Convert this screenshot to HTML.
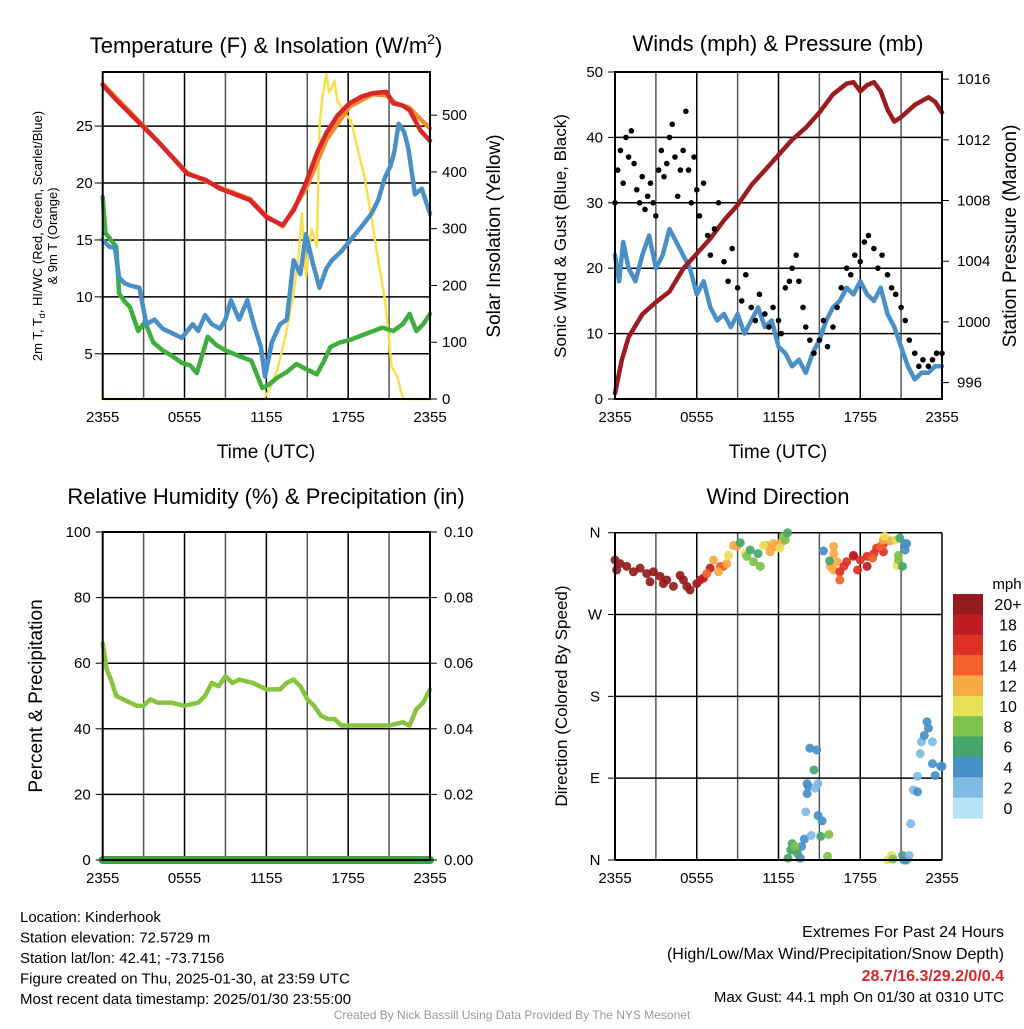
<!DOCTYPE html>
<html><head><meta charset="utf-8"><style>
body{margin:0;background:#fff;}
svg text{font-family:"Liberation Sans",sans-serif;}
</style></head><body>
<svg id="c" width="1024" height="1024" xmlns="http://www.w3.org/2000/svg"></svg>
<script>
// ---------- data ----------
const timeTicks=["2355","0555","1155","1755","2355"];
const tempT=[0,1,2,3,4,5,6.2,7.5,8.6,9.7,10.8,12,13.2,14,14.9,15.7,16.4,17.2,18.1,19,19.8,20.8,21.3,22,22.5,23.3,24];
const tempV=[28.6,27.3,26.1,24.9,23.7,22.4,20.8,20.3,19.5,19.0,18.5,17.0,16.3,17.6,20.0,22.6,24.4,25.9,27.0,27.6,27.9,28.0,27.0,26.8,26.4,24.6,23.7];
const t9T=[0,3,6.2,8.6,10.8,12,13.2,14.9,16.4,18.1,19.8,20.8,21.5,22.5,23.3,24];
const t9V=[28.7,25.0,20.9,19.6,18.6,17.1,16.2,19.5,23.8,26.7,27.8,27.7,27.0,26.6,25.6,24.8];
const dewT=[0,0.2,0.6,1.0,1.2,1.6,2.0,2.6,3.1,3.7,4.4,5.1,5.8,6.4,6.9,7.7,8.3,9.0,10.0,10.9,11.7,12.2,12.8,13.5,14.2,15.0,15.7,16.2,16.7,17.4,18.1,19.2,20.5,21.3,22.0,22.5,23.0,23.5,24];
const dewV=[18.8,15.6,15.0,14.4,10.3,9.6,9.1,7.0,7.8,6.0,5.3,4.8,4.2,4.0,3.3,6.5,5.8,5.3,4.8,4.4,2.0,2.3,2.9,3.4,4.1,3.6,3.2,4.3,5.6,6.0,6.2,6.7,7.3,7.0,7.6,8.5,7.0,7.6,8.5];
const hiT=[0,0.5,0.9,1.2,1.6,2.0,2.7,3.2,3.8,4.4,5.1,5.8,6.6,7.0,7.5,8.0,8.6,9.0,9.4,10.0,10.6,11.1,11.6,11.9,12.4,13.0,13.5,14.0,14.5,14.9,15.4,15.9,16.4,16.8,17.5,18.3,19.0,19.7,20.2,20.7,21.1,21.4,21.7,22.1,22.4,22.9,23.4,24];
const hiV=[15,14.4,14.3,11.7,11.2,11.0,10.8,7.6,8.0,7.2,6.8,6.4,7.6,7.0,8.4,7.6,7.2,8.0,9.7,8.0,9.7,7.5,5.6,3.0,6.0,7.6,8.0,13.2,12.0,15.5,13.0,10.8,12.5,13.2,14.0,15.2,16.2,17.3,18.5,20.5,21.5,22.8,25.2,24.5,23.1,19.0,19.5,17.3];
const solT=[0,11.8,12.3,12.8,13.4,14.0,14.4,14.6,14.9,15.3,15.7,15.9,16.1,16.4,16.6,16.8,17.0,17.2,17.7,18.2,18.7,19.2,19.7,20.2,20.7,21.2,21.6,21.9,22.1,24];
const solV=[0,0,20,51,110,186,260,327,215,300,268,479,530,574,540,549,560,526,505,491,440,391,320,245,174,56,40,10,0,0];
const windT=[0,0.3,0.6,1,1.5,2,2.5,3,3.5,4,4.5,5,5.5,6,6.5,7,7.5,8,8.5,9,9.5,10,10.5,11,11.5,12,12.5,13,13.5,14,14.5,15,15.5,16,16.5,17,17.5,18,18.5,19,19.5,20,20.5,21,21.5,22,22.5,23,23.5,24];
const windV=[22,18,24,20,18,22,25,20,22,26,24,22,20,16,18,14,12,13,11,13,10,12,14,11,12,8,7,5,6,4,7,9,12,14,15,17,16,18,16,15,17,13,11,8,5,3,4,4,5,5];
const gustT=[0,0.2,0.4,0.6,0.8,1.0,1.2,1.4,1.6,1.8,2.0,2.2,2.4,2.6,2.8,3.0,3.2,3.4,3.6,3.8,4.0,4.2,4.4,4.6,4.8,5.0,5.2,5.4,5.6,5.8,6.0,6.2,6.5,6.8,7,7.3,7.6,8,8.3,8.6,9,9.3,9.6,10,10.3,10.6,11,11.3,11.6,12,12.2,12.5,12.8,13,13.3,13.5,13.8,14,14.3,14.6,15,15.3,15.6,16,16.3,16.6,17,17.3,17.6,18,18.3,18.6,19,19.3,19.6,20,20.3,20.6,21,21.3,21.6,22,22.3,22.6,23,23.3,23.6,24];
const gustV=[30,35,38,33,40,37,41,36,32,30,34,29,31,33,30,28,35,38,34,36,40,42,37,31,35,38,44,35,30,37,32,28,33,25,22,26,30,21,18,23,17,15,19,14,12,16,13,11,14,12,10,17,18,20,22,18,14,11,9,7,9,12,8,11,14,17,20,19,22,21,24,25,23,20,22,19,17,16,14,12,9,7,5,6,5,6,7,7];
const presT=[0,0.5,1,2,3,4,5,6,7,8,9,10,11,12,13,14,15,16,17,17.5,18,18.5,19,19.5,20,20.5,21,22,23,23.5,24];
const presV=[995.3,997.5,999,1000.5,1001.3,1002,1003.5,1004.5,1005.5,1006.7,1007.7,1009,1010,1011,1012,1012.8,1013.8,1015,1015.7,1015.8,1015.2,1015.6,1015.8,1015.2,1014,1013.2,1013.5,1014.3,1014.8,1014.5,1013.8];
const rhT=[0,0.15,0.3,0.6,1,1.5,2,2.5,3,3.5,4,5,6,7,7.5,8,8.5,9,9.5,10,11,12,13,13.5,14,14.5,15,15.5,16,16.5,17,17.5,18,19,20,21,22,22.5,23,23.5,24];
const rhV=[66,62,58,55,50,49,48,47,47,49,48,48,47,48,50,54,53,56,54,55,54,52,52,54,55,53,49,47,44,43,43,41,41,41,41,41,42,41,46,48,52];
const precipT=[0,24];
const precipV=[0,0];
const dirT=[0,0.37,0.86,0.12,1.35,1.84,2.33,2.57,2.82,3.31,3.55,3.8,4.29,4.78,5.02,5.27,5.51,6.0,6.25,6.49,6.98,6.74,7.72,7.96,11.76,7.23,8.21,8.7,8.94,7.6,11.15,11.39,11.64,11.88,12.25,8.33,9.56,10.9,12.1,10.17,10.66,9.68,12.37,12.5,9.19,10.5,9.92,12.67,
15.3,16.05,16.05,16.3,15.8,16.05,15.75,16.5,16.8,17.0,17.5,17.8,18.0,18.5,19.0,19.2,19.7,19.7,18.5,17.5,16.5,18.9,19.5,19.7,20.2,19.8,20.6,20.7,20.8,20.8,20.9,21.1,21.3,21.3,21.4,
14.3,14.8,14.1,14.2,14.1,14.9,15.2,13.9,13.7,13.6,14.6,15.1,13.0,13.1,13.4,12.7,12.9,13.2,15.7,15.6,14.9,14.7,14.0,14.4,
20.0,20.3,20.4,21.1,21.2,21.4,21.6,21.7,21.9,22.2,22.4,22.5,23.3,22.2,22.7,22.9,23.0,23.3,23.5,23.9,24.0];
const dirV=[330,326,323,319,317,321,315,306,317,312,304,308,301,313,308,301,297,304,308,310,321,315,323,323,345,330,326,346,345,317,346,339,348,345,350,335,337,346,343,328,323,334,356,352,349,337,341,360,
340,345,337,328,323,319,329,317,323,328,334,319,330,334,337,343,348,339,323,335,308,332,345,352,351,356,352,324,335,330,354,323,348,341,348,
123,121,84,81,73,49,43,23,15,2,99,26,18,11,7,2,11,15,28,4,84,79,53,27,
0,5,1,5,0,0,5,40,77,92,117,130,130,75,137,152,145,106,93,103,103];
const dirS=[21,21,21,21,21,21,21,21,21,21,21,21,21,21,21,21,21,21,18,18,18,14,14,14,14,12,12,12,12,12,12,12,12,12,12,10,10,10,10,8,8,8,8,8,6,6,6,6,
4,12,12,12,12,12,6,16,16,16,16,16,16,16,16,16,16,16,18,18,14,14,14,12,12,10,10,10,8,8,6,6,4,4,4,
4,4,4,4,4,4,4,4,4,4,6,6,6,6,6,6,6,8,8,8,2,2,2,2,
10,10,8,6,4,4,2,2,2,2,2,2,2,4,4,4,4,4,4,4,4];
const cbLabels=["20+","18","16","14","12","10","8","6","4","2","0"];
const cbColors=["#951a1d","#bc1c24","#dc3126","#f16128","#f7a942","#e8e056","#7dc24a","#46a56b","#468fc8","#80bbe5","#b6e3f8"];

// ---------- helpers ----------
const NS="http://www.w3.org/2000/svg";
const svg=document.getElementById('c');
function mk(tag,attrs,parent){const e=document.createElementNS(NS,tag);for(const k in attrs)e.setAttribute(k,attrs[k]);(parent||svg).appendChild(e);return e;}
function txt(x,y,s,size,anchor,parent,rot){const e=mk('text',{x:x,y:y,'font-size':size,'text-anchor':anchor||'middle',fill:'#000'},parent);if(rot)e.setAttribute('transform','rotate(-90 '+x+' '+y+')');e.textContent=s;return e;}
function scale(d0,d1,r0,r1){return v=>r0+(v-d0)/(d1-d0)*(r1-r0);}
function line(T,V,xs,ys,color,w,name){
  let d='';T.forEach((t,i)=>{d+=(i?'L':'M')+xs(t).toFixed(1)+' '+ys(V[i]).toFixed(1);});
  const p=mk('path',{d:d,fill:'none',stroke:color,'stroke-width':w,'stroke-linejoin':'round','stroke-linecap':'round'});
  
  
  return p;
}
function panelFrame(L,T,R,B,hLines,name){
  const g=mk('g',{});
  
  
  for(let i=0;i<=8;i++){const x=L+(R-L)*i/8;mk('line',{x1:x,y1:T,x2:x,y2:B,stroke:i%2?'#555':'#000','stroke-width':1.5},g);}
  hLines.forEach(y=>mk('line',{x1:L,y1:y,x2:R,y2:y,stroke:'#000','stroke-width':1.5},g));
  return g;
}
function border(L,T,R,B){mk('rect',{x:L,y:T,width:R-L,height:B-T,fill:'none',stroke:'#000','stroke-width':2});}
function xLabels(L,R,B){timeTicks.forEach((s,i)=>{const e=txt(L+(R-L)*i/4,B+23,s,15);});}

// ---------- Panel 1 ----------
(function(){
  const L=102.7,R=430,T=72,B=399;
  const xs=scale(0,24,L,R), ys=scale(1.03,29.75,B,T), ys2=scale(0,576,B,T);
  const h=[5,10,15,20,25].map(ys);
  panelFrame(L,T,R,B,h,'temperature-grid');
  line(solT,solV,xs,ys2,'#f9e04b',2.5,'solar-insolation-line');
  line(dewT,dewV,xs,ys,'#3fae3f',4.5,'dewpoint-line');
  line(hiT,hiV,xs,ys,'#4a90c8',4.5,'wind-chill-line');
  line(t9T,t9V,xs,ys,'#f28a2e',4.5,'temp-9m-line');
  line(tempT,tempV,xs,ys,'#d8262a',4.5,'temp-2m-line');
  border(L,T,R,B);
  [5,10,15,20,25].forEach(v=>{txt(L-10,ys(v)+5,String(v),15,'end');mk('line',{x1:L-8,y1:ys(v),x2:L,y2:ys(v),stroke:'#000'});});
  [0,100,200,300,400,500].forEach(v=>{txt(R+12,ys2(v)+5,String(v),15,'start');mk('line',{x1:R,y1:ys2(v),x2:R+7,y2:ys2(v),stroke:'#000'});});
  const t=txt(266,53,'Temperature (F) & Insolation (W/m',22);
  const ts=mk('tspan',{'font-size':14,dy:-9});ts.textContent='2';t.appendChild(ts);const ts2=mk('tspan',{dy:9});ts2.textContent=')';t.appendChild(ts2);
  xLabels(L,R,B);
  const xt=txt(266,458,'Time (UTC)',19);
  const y1=txt(42,236,'2m T, T',13,'middle',null,true);
  const y1a=mk('tspan',{'font-size':9,dy:3});y1a.textContent='d';y1.appendChild(y1a);const y1b=mk('tspan',{dy:-3});y1b.textContent=', HI/WC (Red, Green, Scarlet/Blue)';y1.appendChild(y1b);
  
  txt(57,236,'& 9m T (Orange)',13,'middle',null,true);
  const y2=txt(500,236,'Solar Insolation (Yellow)',19,'middle',null,true);
})();

// ---------- Panel 2 ----------
(function(){
  const L=615,R=942,T=72,B=399;
  const xs=scale(0,24,L,R), ys=scale(0,50,B,T), ys2=scale(994.92,1016.47,B,T);
  const h=[10,20,30,40].map(ys);
  panelFrame(L,T,R,B,h,'winds-grid');
  line(windT,windV,xs,ys,'#4a90c8',4.5,'sonic-wind-line');
  line(presT,presV,xs,ys2,'#9b1c1f',4.5,'pressure-line');
  gustT.forEach((t,i)=>{const c=mk('circle',{cx:xs(t),cy:ys(gustV[i]),r:2.8,fill:'#000'});
    
    });
  border(L,T,R,B);
  [0,10,20,30,40,50].forEach(v=>{txt(L-12,ys(v)+5,String(v),15,'end');mk('line',{x1:L-7,y1:ys(v),x2:L,y2:ys(v),stroke:'#000'});});
  [996,1000,1004,1008,1012,1016].forEach(v=>{txt(R+15,ys2(v)+5,String(v),15,'start');mk('line',{x1:R,y1:ys2(v),x2:R+7,y2:ys2(v),stroke:'#000'});});
  const t=txt(778,51,'Winds (mph) & Pressure (mb)',22);
  xLabels(L,R,B);
  txt(778,458,'Time (UTC)',19);
  const a=txt(566,236,'Sonic Wind & Gust (Blue, Black)',17,'middle',null,true);
  const b=txt(1016,236,'Station Pressure (Maroon)',19,'middle',null,true);
})();

// ---------- Panel 3 ----------
(function(){
  const L=102.7,R=430,T=532,B=860;
  const xs=scale(0,24,L,R), ys=scale(0,100,B,T), ys2=scale(0,0.1,B,T);
  const h=[20,40,60,80].map(ys);
  panelFrame(L,T,R,B,h,'humidity-grid');
  line(rhT,rhV,xs,ys,'#86c440',4.5,'relative-humidity-line');
  line(precipT,precipV,xs,ys2,'#3aa040',8,'precipitation-line');
  border(L,T,R,B);
  [0,20,40,60,80,100].forEach(v=>{txt(L-12,ys(v)+5,String(v),15,'end');mk('line',{x1:L-7,y1:ys(v),x2:L,y2:ys(v),stroke:'#000'});});
  ['0.00','0.02','0.04','0.06','0.08','0.10'].forEach((s,i)=>{const y=ys2(i*0.02);txt(R+14,y+5,s,15,'start');mk('line',{x1:R,y1:y,x2:R+7,y2:y,stroke:'#000'});});
  const t=txt(266,504,'Relative Humidity (%) & Precipitation (in)',22);
  xLabels(L,R,B);
  const y=txt(42,696,'Percent & Precipitation',19,'middle',null,true);
})();

// ---------- Panel 4 ----------
(function(){
  const L=615,R=942,T=532.7,B=860;
  const xs=scale(0,24,L,R), ys=scale(0,360,B,T);
  const h=[90,180,270].map(ys);
  panelFrame(L,T,R,B,h,'direction-grid');
  mk('line',{x1:L,y1:T,x2:R,y2:T,stroke:'#000','stroke-width':1.5});
  function col(s){const idx=s>=20?0:s>=18?1:s>=16?2:s>=14?3:s>=12?4:s>=10?5:s>=8?6:s>=6?7:s>=4?8:s>=2?9:10;return cbColors[idx];}
  dirT.forEach((t,i)=>{const c=mk('circle',{cx:xs(t),cy:ys(dirV[i]),r:4.5,fill:col(dirS[i]),'fill-opacity':0.92});
    
    });
  mk('line',{x1:L,y1:T,x2:L,y2:B,stroke:'#000','stroke-width':2});
  mk('line',{x1:L,y1:B,x2:R,y2:B,stroke:'#000','stroke-width':2});
  ['N','E','S','W','N'].forEach((s,i)=>{const y=ys(i*90);txt(L-20,y+5,s,15,'middle');mk('line',{x1:L-7,y1:y,x2:L,y2:y,stroke:'#000'});});
  const t=txt(778,504,'Wind Direction',22);
  xLabels(L,R,B);
  const y=txt(567,696,'Direction (Colored By Speed)',17,'middle',null,true);
  const lg=mk('g',{});
  
  
  txt(1007,589,'mph',15,'middle',lg);
  const h0=(818-594)/11;
  cbColors.forEach((c,i)=>{mk('rect',{x:953,y:594+i*h0,width:30,height:h0+0.5,fill:c},lg);txt(1008,594+i*h0+h0/2+6,cbLabels[i],16,'middle',lg);});
})();

// ---------- footer text ----------
const info=["Location: Kinderhook","Station elevation: 72.5729 m","Station lat/lon: 42.41; -73.7156","Figure created on Thu, 2025-01-30, at 23:59 UTC","Most recent data timestamp: 2025/01/30 23:55:00"];
info.forEach((s,i)=>{const e=txt(20,922+i*20.5,s,15,'start');});
const ext1=txt(1004,937,'Extremes For Past 24 Hours',16,'end');
txt(1004,959,'(High/Low/Max Wind/Precipitation/Snow Depth)',16,'end');
const ev=txt(1004,981,'28.7/16.3/29.2/0/0.4',16,'end');ev.setAttribute('fill','#d8262a');ev.setAttribute('font-weight','bold');
const mg=txt(1004,1002,'Max Gust: 44.1 mph On 01/30 at 0310 UTC',15,'end');
const cr=txt(512,1019,'Created By Nick Bassill Using Data Provided By The NYS Mesonet',12,'middle');cr.setAttribute('fill','#999');
</script>
</body></html>
